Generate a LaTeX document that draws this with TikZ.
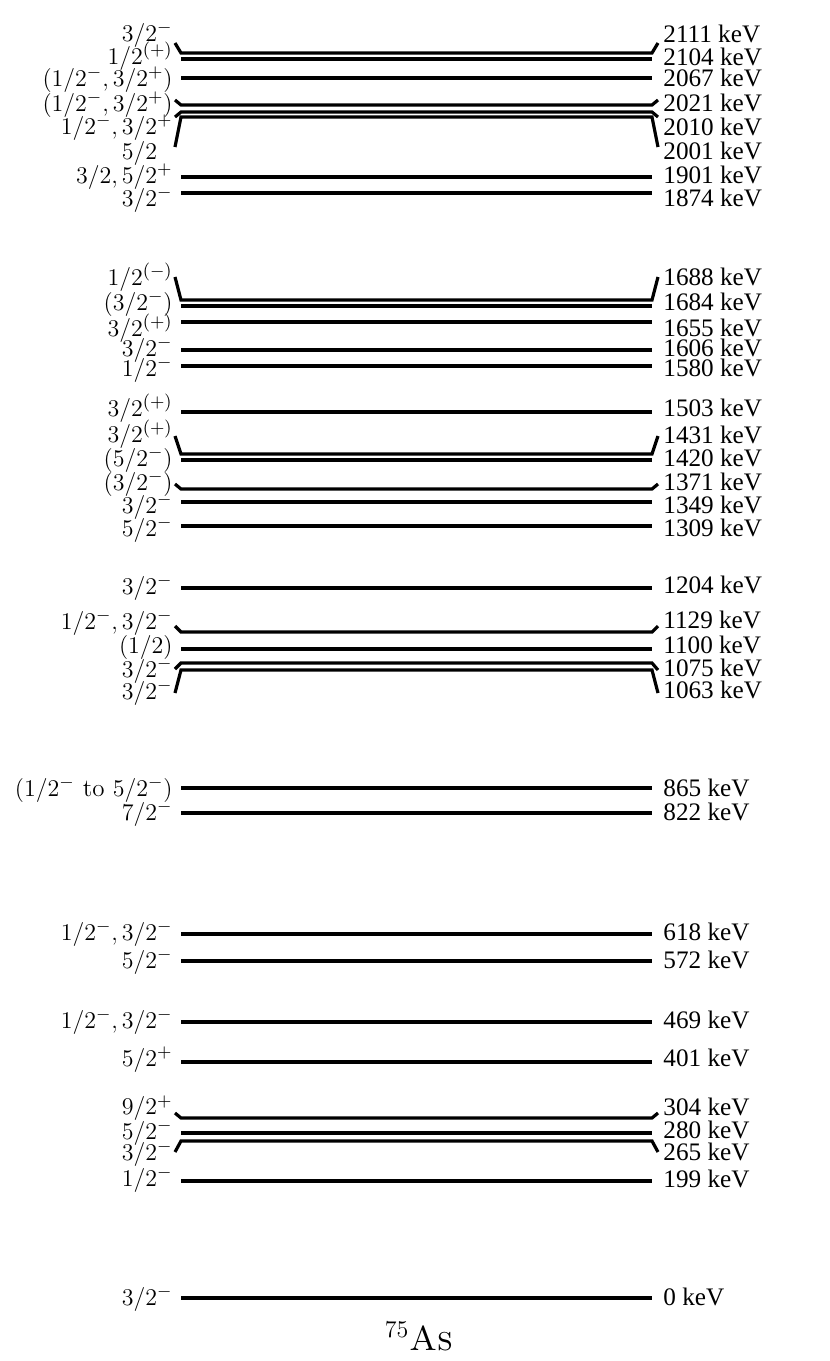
\documentclass[tikz,border=0pt]{standalone}
\usepackage{fontspec}
\newfontfamily\timesf{Liberation Serif}
\tikzset{
  lvl/.style={line width=1.6pt},
  spin/.style={anchor=base east, inner sep=0pt, font=\fontsize{12.5}{15}\selectfont},
  en/.style={anchor=base west, inner sep=0pt, font=\timesf\fontsize{12.6}{15}\selectfont},
}
\newcommand\lvl[1]{\draw[lvl] (181,#1) -- (652,#1);}
\newcommand\lvk[3]{\draw[lvl] (175,#2) -- (181,#1) -- (652,#1) -- (658,#3);}
\newcommand\lab[5]{%
  \node[spin] (s#1) at (173,#2+8) {$#4$};
  \node[en] (e#1) at (663,#3+8.4) {#5 keV};}
\begin{document}
\begin{tikzpicture}[x=0.5pt,y=-0.5pt]
\useasboundingbox (0,0) rectangle (830,1361);
% top group
\lvk{53}{43}{43}      \lab{a2111}{33}{34}{3/2^-}{2111}
\lvl{59}              \lab{a2104}{56.7}{56.7}{1/2^{(+)}}{2104}
\lvl{78}              \lab{a2067}{78}{78}{(1/2^-,3/2^+)}{2067}
\lvk{105}{100}{100}   \lab{a2021}{103}{103}{(1/2^-,3/2^+)}{2021}
\lvk{112}{117}{117}   \lab{a2010}{126.7}{126.7}{1/2^-,3/2^+}{2010}
\lvk{117}{147}{147}   \lab{a2001}{151}{151}{5/2\phantom{^-}}{2001}
\lvl{177}             \lab{a1901}{175}{175}{3/2,5/2^+}{1901}
\lvl{193}             \lab{a1874}{198}{198}{3/2^-}{1874}
% 1580-1688
\lvk{300}{277}{277}   \lab{a1688}{277}{277}{1/2^{(-)}}{1688}
\lvl{306}             \lab{a1684}{302}{301.7}{(3/2^-)}{1684}
\lvl{322}             \lab{a1655}{328}{328}{3/2^{(+)}}{1655}
\lvl{350}             \lab{a1606}{348}{348}{3/2^-}{1606}
\lvl{366}             \lab{a1580}{368}{368}{1/2^-}{1580}
% 1309-1503
\lvl{412}             \lab{a1503}{408}{408}{3/2^{(+)}}{1503}
\lvk{454}{436}{436}   \lab{a1431}{434}{435}{3/2^{(+)}}{1431}
\lvl{460}             \lab{a1420}{458}{458}{(5/2^-)}{1420}
\lvk{489}{484}{484}   \lab{a1371}{482}{482}{(3/2^-)}{1371}
\lvl{502}             \lab{a1349}{505}{505}{3/2^-}{1349}
\lvl{526}             \lab{a1309}{528}{528}{5/2^-}{1309}
% 1063-1204
\lvl{588}             \lab{a1204}{586}{585}{3/2^-}{1204}
\lvk{632}{626}{626}   \lab{a1129}{621}{620}{1/2^-,3/2^-}{1129}
\lvl{649}             \lab{a1100}{645}{645}{(1/2)}{1100}
\lvk{663}{669}{670}   \lab{a1075}{669}{668}{3/2^-}{1075}
\lvk{670}{693}{693}   \lab{a1063}{691}{690}{3/2^-}{1063}
% 822-865
\lvl{788}             \lab{a865}{788}{788}{(1/2^-\mbox{ to }5/2^-)}{865}
\lvl{813}             \lab{a822}{812}{812}{7/2^-}{822}
% lower
\lvl{934}             \lab{a618}{932}{932}{1/2^-,3/2^-}{618}
\lvl{961}             \lab{a572}{960}{960}{5/2^-}{572}
\lvl{1022}            \lab{a469}{1020}{1020}{1/2^-,3/2^-}{469}
\lvl{1062}            \lab{a401}{1058}{1058}{5/2^+}{401}
\lvk{1118}{1113}{1113}\lab{a304}{1106.7}{1106.7}{9/2^+}{304}
\lvl{1133}            \lab{a280}{1131}{1130}{5/2^-}{280}
\lvk{1141}{1152}{1152}\lab{a265}{1152}{1152}{3/2^-}{265}
\lvl{1181}            \lab{a199}{1178}{1179}{1/2^-}{199}
\lvl{1298}            \lab{a0}{1297}{1297}{3/2^-}{0}
\node[anchor=base, inner sep=0pt, font=\fontsize{17.28}{20}\selectfont] (title) at (419,1350) {$^{75}$\textsc{As}};
\end{tikzpicture}
\end{document}
